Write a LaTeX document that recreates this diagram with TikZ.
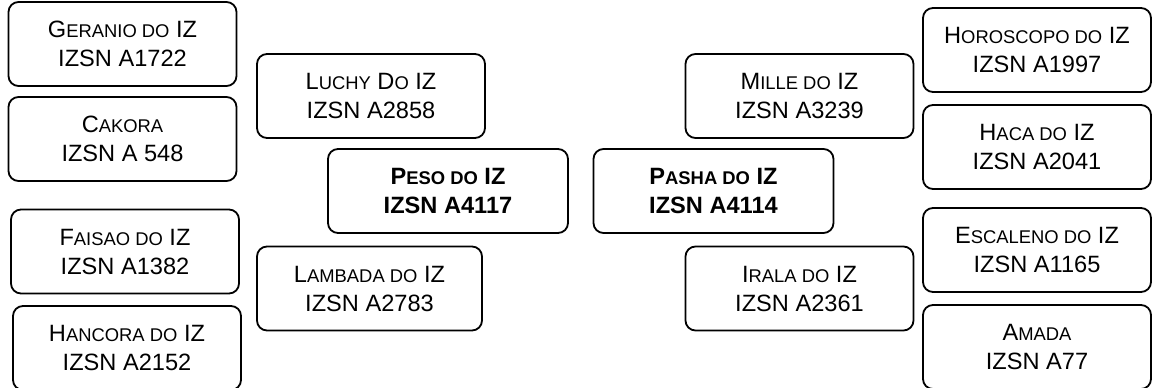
\documentclass[tikz,border=0pt]{standalone}
\usepackage{fontspec}
\setmainfont{Liberation Sans}
\usepackage{tikz}
\usetikzlibrary{positioning}

\newcommand{\smcp}[1]{{\fontsize{9.2}{14.5}\selectfont\MakeUppercase{#1}}}

\begin{document}
\begin{tikzpicture}[x=0.5pt,y=-0.5pt,
    pbox/.style={draw, rounded corners=5pt, line width=0.9pt, inner sep=0pt,
        minimum width=114pt, minimum height=42pt, align=center,
        font=\fontsize{11.8}{14.5}\selectfont},
    mainbox/.style={pbox, minimum width=120pt,
        font=\fontsize{11.8}{14.5}\selectfont\bfseries}]

\useasboundingbox (0,0) rectangle (1152,387);

%\draw[gray,very thin, step=50, opacity=0.5] (0,0) grid (1152,387);

\begin{scope}

\node[pbox] (geranio) at (122.5,44) {G\smcp{eranio do} IZ\\IZSN A1722};
\node[pbox] (cakora) at (122.5,139) {C\smcp{akora}\\IZSN A 548};
\node[pbox] (faisao) at (125,251.5) {F\smcp{aisao do} IZ\\IZSN A1382};
\node[pbox] (hancora) at (127,348) {H\smcp{ancora do} IZ\\IZSN A2152};

\node[pbox] (luchy) at (371,96) {L\smcp{uchy} D\smcp{o} IZ\\IZSN A2858};
\node[pbox, minimum width=112.5pt] (lambada) at (369.5,288.5) {L\smcp{ambada do} IZ\\IZSN A2783};

\node[mainbox] (peso) at (448,191) {P\smcp{eso do} IZ\\IZSN A4117};

\end{scope}

\begin{scope}

\node[mainbox] (pasha) at (713.5,191) {P\smcp{asha do} IZ\\IZSN A4114};

\node[pbox] (mille) at (799.5,96) {M\smcp{ille do} IZ\\IZSN A3239};
\node[pbox] (irala) at (799.5,288.5) {I\smcp{rala do} IZ\\IZSN A2361};

\node[pbox] (horoscopo) at (1037,50) {H\smcp{oroscopo do} IZ\\IZSN A1997};
\node[pbox] (haca) at (1037,147) {H\smcp{aca do} IZ\\IZSN A2041};
\node[pbox] (escaleno) at (1037,250) {E\smcp{scaleno do} IZ\\IZSN A1165};
\node[pbox] (amada) at (1037,347) {A\smcp{mada}\\IZSN A77};

\end{scope}

\end{tikzpicture}
\end{document}
